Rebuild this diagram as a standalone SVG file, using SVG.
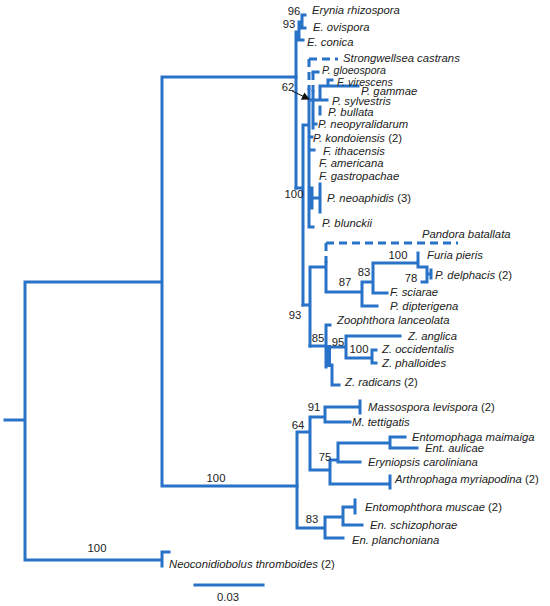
<svg xmlns="http://www.w3.org/2000/svg" width="550" height="606" viewBox="0 0 550 606">
<style>
.br{stroke:#2872c8;stroke-width:3;fill:none;stroke-linecap:square}
.ds{stroke:#2872c8;stroke-width:3;fill:none;stroke-dasharray:8 5}
.tx{font-family:"Liberation Sans",Arial,sans-serif;font-size:11.3px;font-style:italic;fill:#222}
.tx tspan{font-style:normal}
.sm{font-size:10.6px}
.bs{font-family:"Liberation Sans",Arial,sans-serif;font-size:11.3px;fill:#222;text-anchor:middle}
</style>
<defs>
<marker id="ah" markerWidth="8" markerHeight="8" refX="7" refY="4" orient="auto" markerUnits="userSpaceOnUse">
<path d="M0,0 L8,4 L0,8 z" fill="#111"/>
</marker>
</defs>
<rect width="550" height="606" fill="#fff"/>
<g id="connectors">
<path class="br" d="M5,420H25M25,282V560M25,282H162M25,560H162M162,552V566M162,552H169M162,77V486M162,77H296M162,486H297"/>
<path class="br" d="M296,32V188M296,32H299M299,22V40M299,40H303M299,22H302M302,15V28M302,15H305M302,28H305"/>
<path class="br" d="M296,188H303M303,125V305M303,125H309M309,90V227M309,227H313M313,72H318M313,92V128M313,124H316M309,100H327M320,86V100M320,86H358M328,80V86M328,80H332M320,107V114M309,137H312M310,150H314M309,198H320M312,188V208M320,184V212"/>
<path class="ds" d="M309,59H338M309,59V90M313,72V92"/>
<path class="br" d="M303,305H310M310,267V346M310,267H326M326,263V292M326,292H362M362,282V306M362,306H377M362,282H373M373,263V293M373,293H387M373,263H418M418,253V267M418,267H427M427,267V282M422,282H427M427,274H431M431,270V278"/>
<path class="ds" d="M326,243H458M326,243V263"/>
<path class="br" d="M310,346H326M326,325V367M326,325H330M329,347H346M346,336V358M346,336H400M346,358H372M372,350V363M372,350H376M372,363H376M332,365V385M332,385H339"/>
<path class="br" style="stroke-width:4" d="M329,347V365"/>
<path class="br" d="M297,432V528M297,432H310M310,417V470M310,417H325M325,407V422M325,407H360M360,401V413M325,422H350M310,470H330M330,460V484M330,460H338M338,443V462M338,443H390M390,437V448M390,437H405M390,448H417M338,462H360M330,484H390M390,476V488M297,528H325M325,517V538M325,538H343M325,517H343M343,507V525M343,525H362M343,507H355M355,500V513"/>
<path d="M292,91L309,99" stroke="#111" stroke-width="1" fill="none" marker-end="url(#ah)"/>
<path class="br" d="M195,585H263"/>
</g>
<g id="support">
<text class="bs" x="294" y="15">96</text>
<text class="bs" x="289" y="28">93</text>
<text class="bs" x="288" y="91">62</text>
<text class="bs" x="294" y="198">100</text>
<text class="bs" x="345" y="286">87</text>
<text class="bs" x="364" y="276">83</text>
<text class="bs" x="398" y="259">100</text>
<text class="bs" x="411" y="282">78</text>
<text class="bs" x="295" y="319">93</text>
<text class="bs" x="318" y="342">85</text>
<text class="bs" x="338" y="346">95</text>
<text class="bs" x="359" y="353">100</text>
<text class="bs" x="314" y="411">91</text>
<text class="bs" x="298" y="429">64</text>
<text class="bs" x="325" y="461">75</text>
<text class="bs" x="312" y="523">83</text>
<text class="bs" x="216" y="482">100</text>
<text class="bs" x="97" y="552">100</text>
<text class="bs" x="228" y="601">0.03</text>
</g>
<g id="n-erynia"><text class="tx" x="312" y="14">Erynia rhizospora</text></g>
<g id="n-ovispora"><text class="tx" x="313" y="31">E. ovispora</text></g>
<g id="n-conica"><text class="tx" x="307" y="46">E. conica</text></g>
<g id="n-strongwellsea"><text class="tx" x="343" y="62">Strongwellsea castrans</text></g>
<g id="n-gloeospora"><text class="tx sm" x="322" y="74">P. gloeospora</text></g>
<g id="n-virescens"><text class="tx sm" x="337" y="86">F. virescens</text></g>
<g id="n-gammae"><text class="tx" x="361" y="95">P. gammae</text></g>
<g id="n-sylvestris"><text class="tx" x="332" y="105">P. sylvestris</text></g>
<g id="n-bullata"><text class="tx" x="328" y="116">P. bullata</text></g>
<g id="n-neopyralidarum"><text class="tx" x="318" y="128">P. neopyralidarum</text></g>
<g id="n-kondoiensis"><text class="tx" x="313" y="142">P. kondoiensis <tspan>(2)</tspan></text></g>
<g id="n-ithacensis"><text class="tx" x="323" y="155">F. ithacensis</text></g>
<g id="n-americana"><text class="tx" x="319" y="167">F. americana</text></g>
<g id="n-gastropachae"><text class="tx" x="319" y="180">F. gastropachae</text></g>
<g id="n-neoaphidis"><text class="tx" x="327" y="202">P. neoaphidis <tspan>(3)</tspan></text></g>
<g id="n-blunckii"><text class="tx" x="322" y="227">P. blunckii</text></g>
<g id="n-batallata"><text class="tx" x="422" y="238">Pandora batallata</text></g>
<g id="n-pieris"><text class="tx" x="427" y="259">Furia pieris</text></g>
<g id="n-delphacis"><text class="tx" x="435" y="279">P. delphacis <tspan>(2)</tspan></text></g>
<g id="n-sciarae"><text class="tx" x="390" y="296">F. sciarae</text></g>
<g id="n-dipterigena"><text class="tx" x="390" y="310">P. dipterigena</text></g>
<g id="n-lanceolata"><text class="tx" x="337" y="324">Zoophthora lanceolata</text></g>
<g id="n-anglica"><text class="tx" x="408" y="340">Z. anglica</text></g>
<g id="n-occidentalis"><text class="tx" x="382" y="353">Z. occidentalis</text></g>
<g id="n-phalloides"><text class="tx" x="382" y="367">Z. phalloides</text></g>
<g id="n-radicans"><text class="tx" x="345" y="386">Z. radicans <tspan>(2)</tspan></text></g>
<g id="n-massospora"><text class="tx" x="368" y="411">Massospora levispora <tspan>(2)</tspan></text></g>
<g id="n-tettigatis"><text class="tx" x="352" y="426">M. tettigatis</text></g>
<g id="n-maimaiga"><text class="tx" x="412" y="441">Entomophaga maimaiga</text></g>
<g id="n-aulicae"><text class="tx" x="425" y="452">Ent. aulicae</text></g>
<g id="n-eryniopsis"><text class="tx" x="368" y="466">Eryniopsis caroliniana</text></g>
<g id="n-arthrophaga"><text class="tx" x="395" y="483">Arthrophaga myriapodina <tspan>(2)</tspan></text></g>
<g id="n-muscae"><text class="tx" x="365" y="511">Entomophthora muscae <tspan>(2)</tspan></text></g>
<g id="n-schizophorae"><text class="tx" x="370" y="529">En. schizophorae</text></g>
<g id="n-planchoniana"><text class="tx" x="352" y="544">En. planchoniana</text></g>
<g id="n-neoconidiobolus"><text class="tx" x="169" y="568">Neoconidiobolus thromboides <tspan>(2)</tspan></text></g>
</svg>
